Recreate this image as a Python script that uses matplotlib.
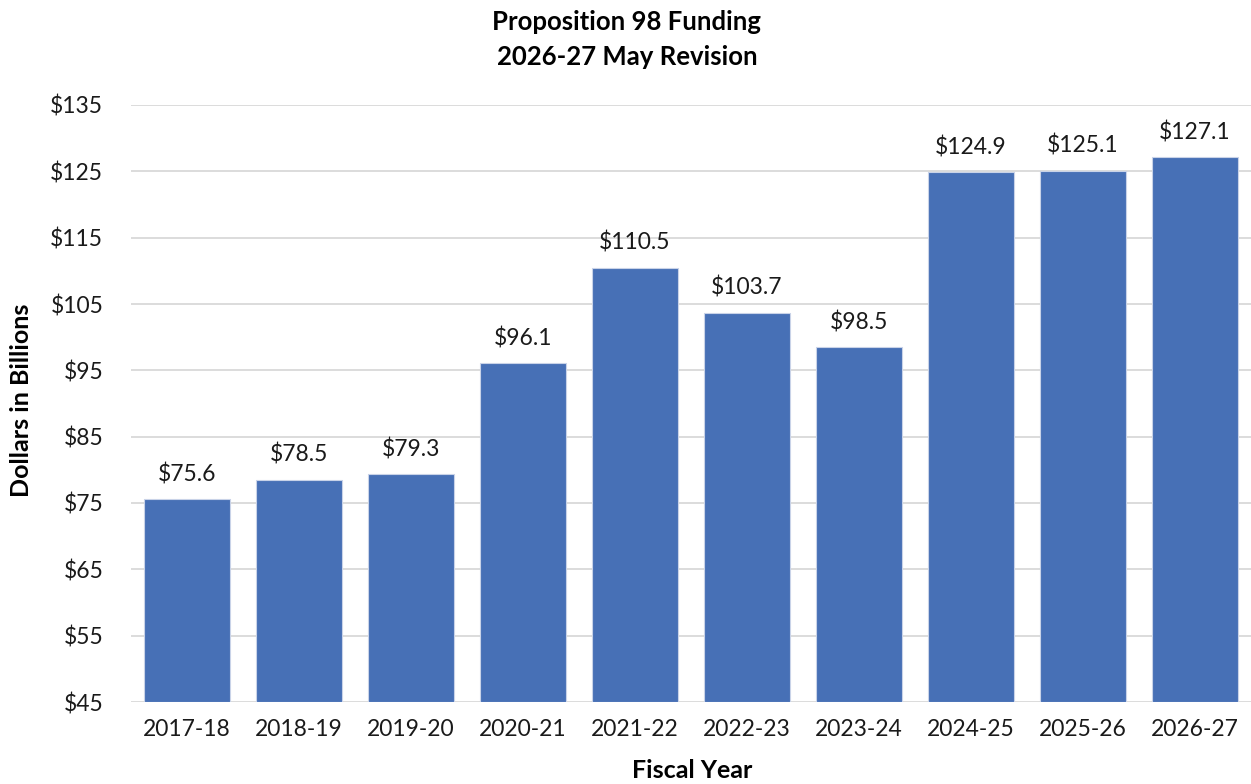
import matplotlib
matplotlib.use("Agg")
import matplotlib.pyplot as plt

# ── DATA ──────────────────────────────────────────────────────────────────────
years = ["2017-18", "2018-19", "2019-20", "2020-21", "2021-22",
         "2022-23", "2023-24", "2024-25", "2025-26", "2026-27"]
funding = [75.6, 78.5, 79.3, 96.1, 110.5, 103.7, 98.5, 124.9, 125.1, 127.1]
yticks = [45, 55, 65, 75, 85, 95, 105, 115, 125, 135]

BAR_COLOR = "#4770B6"
plt.rcParams["font.family"] = ["Lato", "DejaVu Sans"]

fig = plt.figure(figsize=(12.51, 7.84), dpi=100)
ax = fig.add_axes([131 / 1251, 1 - 702 / 784, 1 - 131 / 1251, (702 - 105) / 784])

x = list(range(len(years)))
ax.bar(x, [v - 45 for v in funding], bottom=45, width=0.77,
       color=BAR_COLOR, edgecolor="#c9d3e8", linewidth=0.8, zorder=3)

for xi, v in zip(x, funding):
    ax.text(xi, v + 2.1, f"${v:.1f}", ha="center", va="bottom",
            fontsize=16.5, color="#1a1a1a")

ax.set_xlim(-0.5, 9.5)
ax.set_ylim(45, 135)
ax.set_yticks(yticks)
ax.set_yticklabels([f"${t}" for t in yticks])
ax.set_xticks(x)
ax.set_xticklabels(years)
ax.tick_params(axis="both", length=0, labelsize=16.5, colors="#1a1a1a")
ax.tick_params(axis="y", pad=20)
ax.tick_params(axis="x", pad=12)

ax.grid(axis="y", color="#d9d9d9", linewidth=1.3, zorder=0)
for s in ax.spines.values():
    s.set_visible(False)

fig.text(627 / 1251, 1 - 22 / 784, "Proposition 98 Funding", ha="center", va="center",
         fontsize=18.5, fontweight="bold")
fig.text(627 / 1251, 1 - 57 / 784, "2026-27 May Revision", ha="center", va="center",
         fontsize=18.5, fontweight="bold")
fig.text(22 / 1251, 1 - 400 / 784, "Dollars in Billions", rotation=90,
         ha="center", va="center", fontsize=18, fontweight="bold")
fig.text(692 / 1251, 1 - 770 / 784, "Fiscal Year", ha="center", va="center",
         fontsize=18, fontweight="bold")

plt.savefig("out.png", dpi=100)
plt.close()
